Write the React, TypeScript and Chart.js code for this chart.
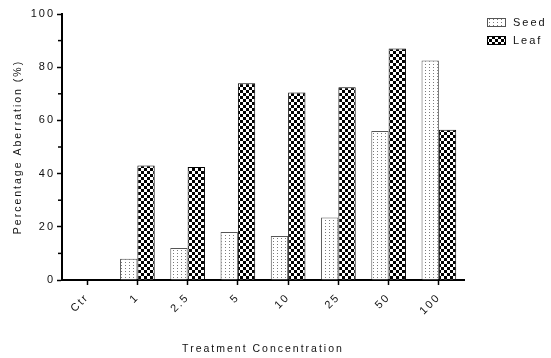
import React, { useEffect, useRef } from "react";
import { Chart, registerables } from "chart.js";

Chart.register(...registerables);

const categories = ["Ctr", "1", "2.5", "5", "10", "25", "50", "100"];
const seedValues = [0, 8, 12, 18, 16.5, 23.5, 56, 82.5];
const leafValues = [0, 43, 42.5, 74, 70.5, 72.5, 87, 56.5];
const seriesLabels = ["Seed", "Leaf"];
const yTickLabels = [0, 20, 40, 60, 80, 100];

const FONT = "'Liberation Sans', Arial, sans-serif";

function makeDotPattern(ctx: CanvasRenderingContext2D) {
  const c = document.createElement("canvas");
  c.width = 4;
  c.height = 3;
  const g = c.getContext("2d")!;
  g.fillStyle = "#ffffff";
  g.fillRect(0, 0, 4, 3);
  g.fillStyle = "#7a7a7a";
  g.fillRect(1, 1, 1, 1);
  return ctx.createPattern(c, "repeat")!;
}

function makeCheckPattern(ctx: CanvasRenderingContext2D) {
  const c = document.createElement("canvas");
  c.width = 6;
  c.height = 6;
  const g = c.getContext("2d")!;
  g.fillStyle = "#ffffff";
  g.fillRect(0, 0, 6, 6);
  g.fillStyle = "#000000";
  g.fillRect(0, 0, 3, 3);
  g.fillRect(3, 3, 3, 3);
  return ctx.createPattern(c, "repeat")!;
}

export default function App() {
  const ref = useRef<HTMLCanvasElement | null>(null);

  useEffect(() => {
    const canvas = ref.current!;
    const ctx = canvas.getContext("2d")!;
    const dot = makeDotPattern(ctx);
    const check = makeCheckPattern(ctx);

    const spacingPlugin = {
      id: "spacing",
      beforeLayout(chart: any) {
        chart.ctx.letterSpacing = "2px";
      },
      beforeDraw(chart: any) {
        chart.ctx.letterSpacing = "2px";
      },
    };

    const minorTicks = {
      id: "minorTicks",
      afterDraw(chart: any) {
        const y = chart.scales.y;
        const c = chart.ctx;
        c.save();
        c.strokeStyle = "#000";
        c.lineWidth = 1.5;
        for (let v = 10; v < 100; v += 20) {
          const py = y.getPixelForValue(v);
          c.beginPath();
          c.moveTo(chart.chartArea.left - 4, py);
          c.lineTo(chart.chartArea.left, py);
          c.stroke();
        }
        c.restore();
      },
    };

    const legendPlugin = {
      id: "customLegend",
      afterDraw(chart: any) {
        const c = chart.ctx;
        const x0 = chart.chartArea.right + 23;
        const y0 = chart.chartArea.top + 4;
        c.save();
        c.letterSpacing = "2px";
        chart.data.datasets.forEach((ds: any, i: number) => {
          const by = y0 + i * 18;
          c.fillStyle = ds.backgroundColor;
          c.fillRect(x0, by, 19, 9);
          c.strokeStyle = ds.borderColor;
          c.lineWidth = 1;
          c.strokeRect(x0 + 0.5, by + 0.5, 18, 8);
          c.fillStyle = "#111";
          c.font = `11px ${FONT}`;
          c.textBaseline = "middle";
          c.textAlign = "left";
          c.fillText(ds.label, x0 + 26, by + 5);
        });
        c.restore();
      },
    };

    const chart = new Chart(canvas, {
      type: "bar",
      data: {
        labels: categories,
        datasets: [
          {
            label: seriesLabels[0],
            data: seedValues,
            backgroundColor: dot as any,
            borderColor: "#555",
            borderWidth: 1,
            borderSkipped: "start",
            categoryPercentage: 0.69,
            barPercentage: 1,
          },
          {
            label: seriesLabels[1],
            data: leafValues,
            backgroundColor: check as any,
            borderColor: "#000",
            borderWidth: 1,
            borderSkipped: "start",
            categoryPercentage: 0.69,
            barPercentage: 1,
          },
        ],
      },
      options: {
        responsive: false,
        animation: false,
        devicePixelRatio: 1,
        layout: { padding: { top: 14, right: 87, left: 0, bottom: 0 } },
        plugins: {
          legend: { display: false },
          tooltip: { enabled: false },
        },
        scales: {
          x: {
            afterFit: (s: any) => {
              s.height = 78;
            },
            grid: {
              drawOnChartArea: false,
              offset: false,
              tickLength: 5,
              tickWidth: 1.5,
              tickColor: "#000",
            },
            border: { color: "#000", width: 2 },
            ticks: {
              color: "#111",
              font: { size: 11, family: FONT },
              minRotation: 45,
              maxRotation: 45,
              padding: 6,
              autoSkip: false,
            },
            title: {
              display: true,
              text: "Treatment Concentration",
              color: "#111",
              font: { size: 10.5, family: FONT },
              padding: { top: 0, bottom: 3 },
            },
          },
          y: {
            min: 0,
            max: 100,
            afterFit: (s: any) => {
              s.width = 62;
            },
            grid: {
              drawOnChartArea: false,
              tickLength: 5,
              tickWidth: 1.5,
              tickColor: "#000",
            },
            border: { color: "#000", width: 2 },
            ticks: {
              stepSize: 20,
              color: "#111",
              font: { size: 11, family: FONT },
              padding: 2,
              autoSkip: false,
              callback: (v: any) => (yTickLabels.includes(Number(v)) ? String(v) : ""),
            },
            title: {
              display: true,
              text: "Percentage Aberration (%)",
              color: "#111",
              font: { size: 10.5, family: FONT },
              padding: { top: 12, bottom: 0 },
            },
          },
        },
      },
      plugins: [spacingPlugin, minorTicks, legendPlugin],
    });

    return () => chart.destroy();
  }, []);

  return (
    <div style={{ position: "fixed", left: 0, top: 0, width: 551, height: 358, background: "#fff" }}>
      <canvas ref={ref} width={551} height={358} style={{ display: "block" }} />
    </div>
  );
}
